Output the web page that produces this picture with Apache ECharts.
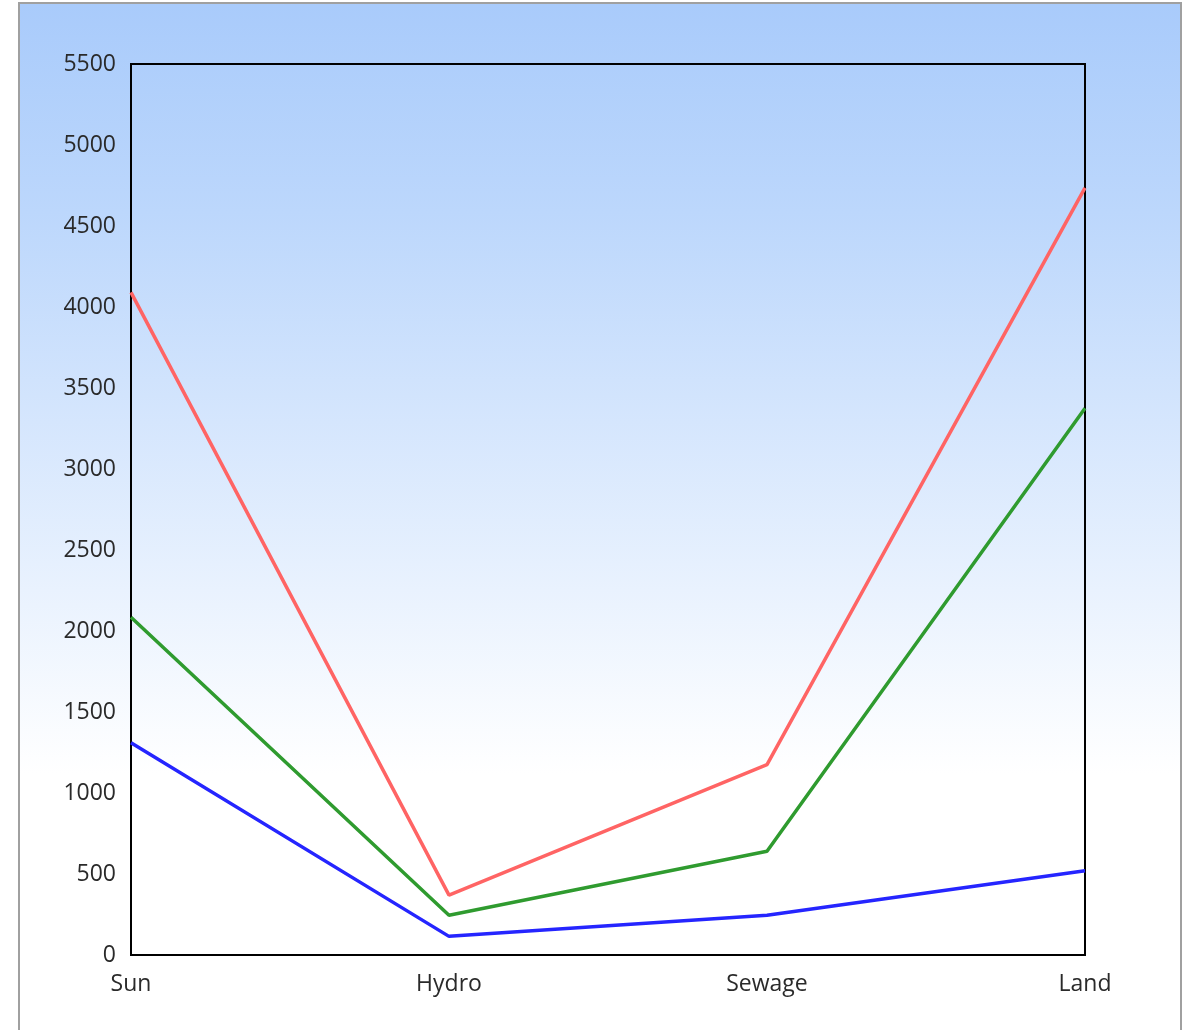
<!DOCTYPE html>
<html>
<head>
<meta charset="utf-8">
<script src="https://cdn.jsdelivr.net/npm/echarts@6/dist/echarts.min.js"></script>
<style>
  html, body { margin: 0; padding: 0; background: #fff; overflow: hidden; }
  #frame {
    position: absolute; left: 18px; top: 2px;
    width: 1160px; height: 1040px;
    border: 2px solid #a0a0a0;
  }
</style>
</head>
<body>
<div id="frame"></div>
<script>
// Energy sources along the x axis
const categories = ['Sun', 'Hydro', 'Sewage', 'Land'];

// Three series, one value per source
const redValues   = [4090, 370, 1175, 4735];
const greenValues = [2085, 245, 640, 3375];
const blueValues  = [1310, 115, 245, 520];

// Value axis range and step
const yMin = 0;
const yMax = 5500;
const yStep = 500;

const chart = echarts.init(document.getElementById('frame'), null, { renderer: 'canvas' });

const font = '"Open Sans", "Noto Sans", sans-serif';

function lineSeries(name, data, color) {
  return {
    name: name,
    type: 'line',
    data: data,
    symbol: 'none',
    lineStyle: { color: color, width: 3.5 },
    itemStyle: { color: color },
    animation: false
  };
}

chart.setOption({
  backgroundColor: new echarts.graphic.LinearGradient(0, 0, 0, 1, [
    { offset: 0, color: '#a9cbfb' },
    { offset: 0.2, color: '#bcd7fc' },
    { offset: 0.74, color: '#ffffff' },
    { offset: 1, color: '#ffffff' }
  ]),
  animation: false,
  grid: {
    left: 111, top: 60, width: 954, height: 891,
    show: true, borderColor: '#000', borderWidth: 2,
    backgroundColor: 'transparent'
  },
  xAxis: {
    type: 'category',
    data: categories,
    boundaryGap: false,
    axisLine: { show: true, lineStyle: { color: '#000', width: 2 } },
    axisTick: { show: false },
    splitLine: { show: false },
    axisLabel: {
      color: '#2a2a2a', fontFamily: font, fontSize: 23, margin: 18
    }
  },
  yAxis: {
    type: 'value',
    min: yMin, max: yMax, interval: yStep,
    axisLine: { show: true, lineStyle: { color: '#000', width: 2 } },
    axisTick: { show: false },
    splitLine: { show: false },
    axisLabel: {
      color: '#2a2a2a', fontFamily: font, fontSize: 23, margin: 15,
      formatter: function (v) { return String(v); }
    }
  },
  series: [
    lineSeries('Red', redValues, '#ff6464'),
    lineSeries('Green', greenValues, '#2f9b2f'),
    lineSeries('Blue', blueValues, '#2525ff')
  ]
});
</script>
</body>
</html>
